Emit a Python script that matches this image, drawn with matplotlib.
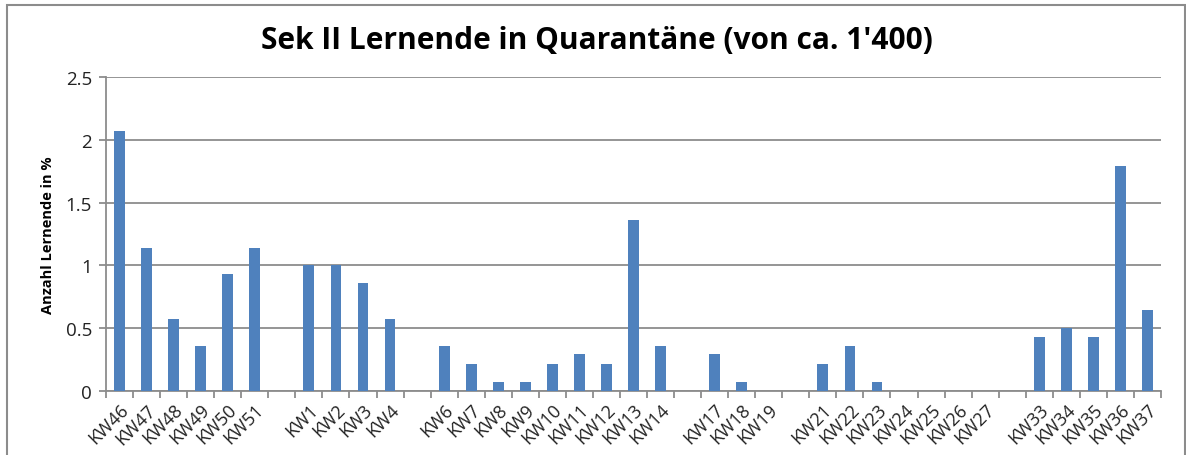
import matplotlib
matplotlib.use('Agg')
import matplotlib.pyplot as plt
from matplotlib.patches import Rectangle

# weeks, '' = empty slot in the category axis
weeks = ['KW46', 'KW47', 'KW48', 'KW49', 'KW50', 'KW51', '',
         'KW1', 'KW2', 'KW3', 'KW4', '',
         'KW6', 'KW7', 'KW8', 'KW9', 'KW10', 'KW11', 'KW12', 'KW13', 'KW14', '',
         'KW17', 'KW18', 'KW19', '',
         'KW21', 'KW22', 'KW23', 'KW24', 'KW25', 'KW26', 'KW27', '',
         'KW33', 'KW34', 'KW35', 'KW36', 'KW37']
# Anzahl Lernende in % (0 for empty slots)
percent = [2.07, 1.14, 0.57, 0.36, 0.93, 1.14, 0,
           1.0, 1.0, 0.86, 0.57, 0,
           0.36, 0.21, 0.07, 0.07, 0.21, 0.29, 0.21, 1.36, 0.36, 0,
           0.29, 0.07, 0, 0,
           0.21, 0.36, 0.07, 0, 0, 0, 0, 0,
           0.43, 0.5, 0.43, 1.79, 0.64]
yticks = [0, 0.5, 1, 1.5, 2, 2.5]
ytick_labels = ['0', '0.5', '1', '1.5', '2', '2.5']

grey = '#8c8c8c'
plt.rcParams['font.family'] = ['Open Sans', 'DejaVu Sans']

fig = plt.figure(figsize=(11.86, 4.56), dpi=100)
ax = fig.add_axes([106 / 1186, 1 - 391.7 / 456, (1161 - 106) / 1186, (391.7 - 78.3) / 456])

x = list(range(len(weeks)))
ax.bar(x, percent, width=0.4, color='#4f81bd', zorder=3)

ax.set_xlim(-0.5, len(weeks) - 0.5)
ax.set_ylim(0, 2.5)

# category labels at the centres, tick marks on the slot borders
ax.set_xticks(x)
ax.set_xticklabels(weeks, rotation=45, ha='right', rotation_mode='anchor',
                   fontsize=13, color='#222222')
ax.tick_params(axis='x', which='major', length=0, pad=7)
ax.set_xticks([i - 0.5 for i in range(len(weeks) + 1)], minor=True)
ax.tick_params(axis='x', which='minor', length=5, color=grey, width=1.3)

ax.set_yticks(yticks)
ax.set_yticklabels(ytick_labels, fontsize=13.5, color='#222222')
ax.tick_params(axis='y', length=5, color=grey, width=1.3, pad=5)

ax.grid(axis='y', color=grey, linewidth=1.3, zorder=0)
for s in ['top', 'right']:
    ax.spines[s].set_visible(False)
for s in ['left', 'bottom']:
    ax.spines[s].set_color(grey)
    ax.spines[s].set_linewidth(1.3)

ax.set_ylabel('Anzahl Lernende in %', fontsize=10.5, fontweight='bold', labelpad=8)
fig.text(597 / 1186, 1 - 41 / 456, "Sek II Lernende in Quarantäne (von ca. 1'400)",
         ha='center', va='center', fontsize=21.5, fontweight='bold')

# chart frame
fig.add_artist(Rectangle((7 / 1186, -0.05), (1185 - 7) / 1186, 1.05 - 6 / 456,
                         transform=fig.transFigure, fill=False,
                         edgecolor=grey, linewidth=1.5))

plt.savefig('out.png', dpi=100)
